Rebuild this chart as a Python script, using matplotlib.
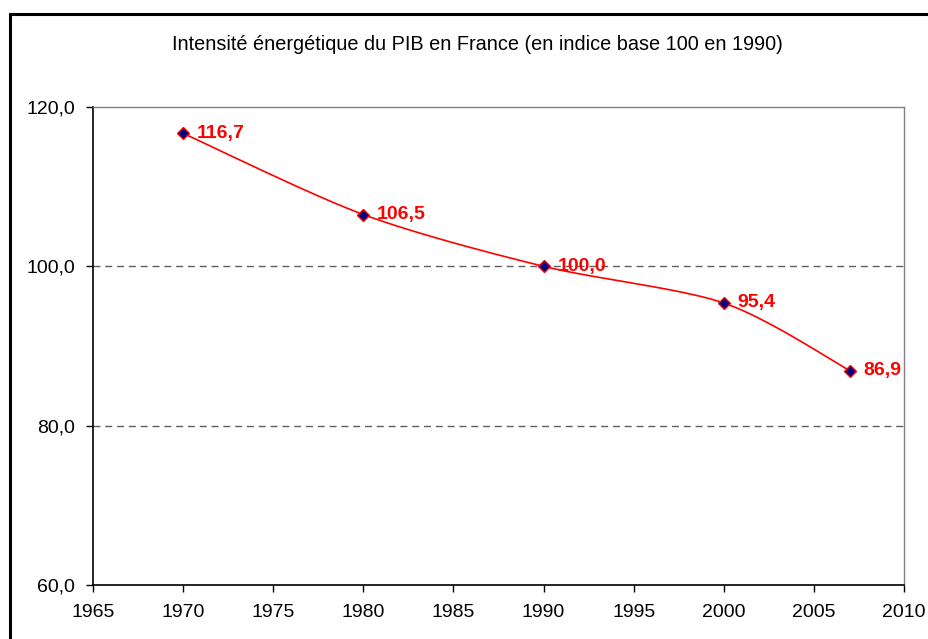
import matplotlib
matplotlib.use("Agg")
import matplotlib.pyplot as plt
import numpy as np
from matplotlib.patches import Rectangle

years = [1970, 1980, 1990, 2000, 2007]
values = [116.7, 106.5, 100.0, 95.4, 86.9]
labels = ["116,7", "106,5", "100,0", "95,4", "86,9"]
yticks = [60, 80, 100, 120]
ytick_labels = ["60,0", "80,0", "100,0", "120,0"]
xticks = [1965, 1970, 1975, 1980, 1985, 1990, 1995, 2000, 2005, 2010]
title = "Intensité énergétique du PIB en France (en indice base 100 en 1990)"

plt.rcParams['font.family'] = ['Liberation Sans', 'DejaVu Sans']

fig = plt.figure(figsize=(9.29, 6.39), dpi=100)
fig.patches.append(Rectangle((10/929, -0.1), 1.1, (639-14)/639 + 0.1,
                             transform=fig.transFigure, fill=False,
                             edgecolor='black', linewidth=2.2))
ax = fig.add_axes([93/929, 54/639, (904-93)/929, (585-107)/639])

# Smoothed (Excel-like) curve through the data points
x = np.array(years, float)
y = np.array(values, float)
px = [x[0]] + list(x) + [x[-1]]
py = [y[0]] + list(y) + [y[-1]]
cx, cy = [], []
t = np.linspace(0, 1, 40)
for i in range(1, len(px) - 2):
    p0 = np.array([px[i-1], py[i-1]]); p1 = np.array([px[i], py[i]])
    p2 = np.array([px[i+1], py[i+1]]); p3 = np.array([px[i+2], py[i+2]])
    c1 = p1 + (p2 - p0) / 7
    c2 = p2 - (p3 - p1) / 7
    b = ((1-t)**3)[:, None]*p1 + (3*(1-t)**2*t)[:, None]*c1 + (3*(1-t)*t**2)[:, None]*c2 + (t**3)[:, None]*p2
    cx.extend(b[:, 0]); cy.extend(b[:, 1])

for gy in [80, 100]:
    ax.axhline(gy, color='#606060', linestyle=(0, (5, 3.5)), linewidth=1.0, zorder=1)

ax.plot(cx, cy, color='red', linewidth=1.2, zorder=3)
ax.plot(years, values, linestyle='none', marker='D', markersize=6,
        markerfacecolor='#000080', markeredgecolor='red', markeredgewidth=1.0, zorder=4)
for xx, yy, lab in zip(years, values, labels):
    ax.annotate(lab, (xx, yy), xytext=(10, 0), textcoords='offset points',
                ha='left', va='center', color='red', fontsize=14, fontweight='bold', zorder=5)

ax.set_xlim(1965, 2010)
ax.set_ylim(60, 120)
ax.set_xticks(xticks)
ax.set_xticklabels([str(v) for v in xticks], fontsize=14)
ax.set_yticks(yticks)
ax.set_yticklabels(ytick_labels, fontsize=14)
ax.tick_params(axis='both', direction='out', length=5, width=1, color='black')
ax.tick_params(axis='x', pad=9)
ax.tick_params(axis='y', pad=8)
for s in ['left', 'bottom']:
    ax.spines[s].set_color('black')
    ax.spines[s].set_linewidth(1.2)
for s in ['top', 'right']:
    ax.spines[s].set_color('#808080')
    ax.spines[s].set_linewidth(1.0)

fig.text(477/929, 1 - 45/639, title, ha='center', va='center', fontsize=14.3)

fig.savefig("out.png", dpi=100)
